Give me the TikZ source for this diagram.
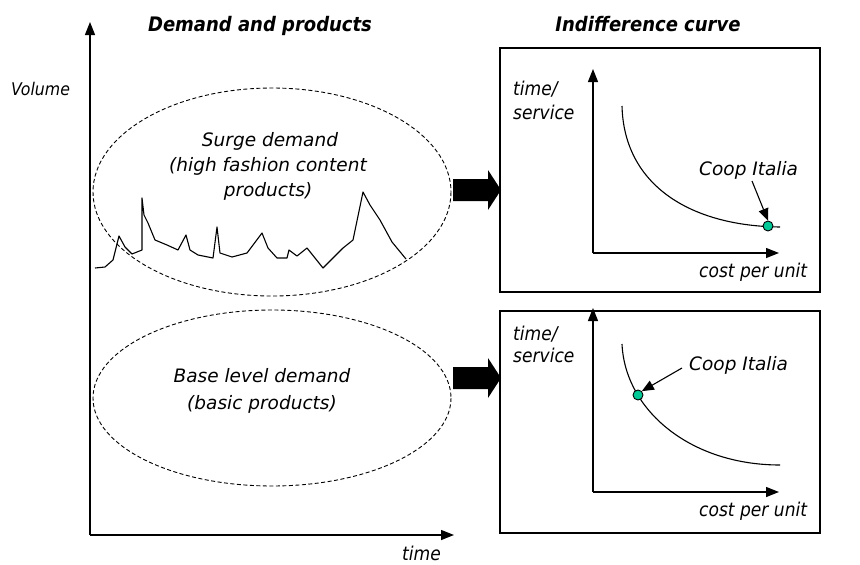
\documentclass[tikz,border=0pt]{standalone}
\usepackage{fontspec}
\setmainfont{DejaVu Sans}
\newfontfamily\condfont{DejaVu Sans Condensed}
\usetikzlibrary{arrows.meta}
\begin{document}
\begin{tikzpicture}[x=1pt,y=-1pt,
  lbl/.style={font=\itshape\fontsize{18.5}{22}\selectfont, inner sep=0pt},
  axlbl/.style={font=\condfont\itshape\fontsize{19}{23}\selectfont, inner sep=0pt},
  ttl/.style={font=\condfont\bfseries\itshape\fontsize{20}{24}\selectfont, inner sep=0pt},
  axis/.style={line width=1.4pt, -{Triangle[length=13pt,width=10pt]}},
  oval/.style={draw, dashed, dash pattern=on 4pt off 2.5pt, line width=0.9pt},
  panel/.style={draw, line width=1.4pt},
  curve/.style={line width=1.1pt},
  dot/.style={circle, draw, line width=0.9pt, fill={rgb,255:red,0;green,200;blue,150}, minimum size=10pt, inner sep=0pt},
  pointer/.style={line width=1.1pt, -{Triangle[length=12pt,width=10pt]}},
  blockarrow/.style={fill=black}]
\useasboundingbox (0,0) rectangle (860,565);

% titles
\node[ttl, anchor=base] (t1) at (260,31) {Demand and products};
\node[ttl, anchor=base] (t2) at (648,31) {Indifference curve};

% main axes
\coordinate (o) at (90,535);
\coordinate (ytip) at (90,22);
\coordinate (xtip) at (454,535);
\draw[axis] (o) -- (ytip);
\draw[axis] (o) -- (xtip);
\node[axlbl, font=\condfont\itshape\fontsize{17.5}{21}\selectfont, anchor=base west] (vol) at (11,95) {Volume};
\node[axlbl, anchor=base east] (time) at (441,560) {time};

% ovals
\draw[oval] (272,192) ellipse [x radius=179, y radius=104];
\draw[oval] (272,398) ellipse [x radius=179, y radius=88];
\node[lbl, anchor=base] (s1) at (270,146) {Surge demand};
\node[lbl, anchor=base] (s2) at (268,171) {(high fashion content};
\node[lbl, anchor=base] (s3) at (268,196) {products)};
\node[lbl, anchor=base] (b1) at (262,382) {Base level demand};
\node[lbl, anchor=base] (b2) at (262,409) {(basic products)};

% surge demand line
\draw[curve, line join=round] (95,268) -- (105,267) -- (113,260) -- (119,236) -- (125,247) -- (132,254) -- (142,250)
 -- (142,198) -- (144,215) -- (148,223) -- (155,240) -- (167,245) -- (178,250) -- (186,235) -- (190,250)
 -- (198,255) -- (213,258) -- (217,227) -- (220,253) -- (232,257) -- (247,253) -- (262,233) -- (268,248)
 -- (277,258) -- (287,258) -- (289,250) -- (297,256) -- (307,248) -- (323,268) -- (343,248) -- (353,240)
 -- (363,192) -- (370,205) -- (380,220) -- (392,242) -- (406,259);

% block arrows
\fill[blockarrow] (453,179) -- (488,179) -- (488,170) -- (501,190) -- (488,210) -- (488,201) -- (453,201) -- cycle;
\fill[blockarrow] (453,367) -- (488,367) -- (488,358) -- (501,378) -- (488,398) -- (488,389) -- (453,389) -- cycle;

% upper panel
\draw[panel] (500,48) rectangle (820,292);
\coordinate (o1) at (593,253);
\coordinate (y1) at (593,69);
\coordinate (x1) at (779,253);
\draw[axis] (o1) -- (y1);
\draw[axis] (o1) -- (x1);
\node[axlbl, anchor=base west] (ts1) at (513,95) {time/};
\node[axlbl, anchor=base west] (sv1) at (513,119) {service};
\node[axlbl, anchor=base west] (cu1) at (699,277) {cost per unit};
\draw[curve] (622,106) .. controls (624,185) and (690,226) .. (780,227);
\node[dot] (d1) at (768,226) {};
\node[lbl, anchor=base west] (c1) at (699,175) {Coop Italia};
\draw[pointer] (752,181) -- (d1.north);

% lower panel
\draw[panel] (500,311) rectangle (820,533);
\coordinate (o2) at (593,492);
\coordinate (y2) at (593,308);
\coordinate (x2) at (779,492);
\draw[axis] (o2) -- (y2);
\draw[axis] (o2) -- (x2);
\node[axlbl, anchor=base west] (ts2) at (513,340) {time/};
\node[axlbl, anchor=base west] (sv2) at (513,362) {service};
\node[axlbl, anchor=base west] (cu2) at (699,516) {cost per unit};
\draw[curve] (622,344) .. controls (625,410) and (690,465) .. (780,465);
\node[dot] (d2) at (638,395) {};
\node[lbl, anchor=base west] (c2) at (689,370) {Coop Italia};
\draw[pointer] (682,368) -- (d2.north east);
\end{tikzpicture}
\end{document}
